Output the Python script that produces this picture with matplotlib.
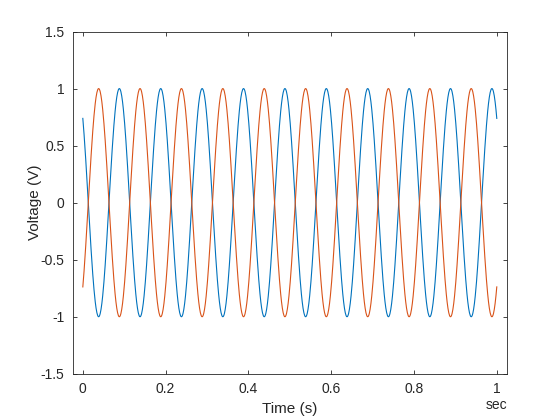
import numpy as np
import matplotlib
matplotlib.use("Agg")
import matplotlib.pyplot as plt

# values
time_start = 0.0          # s
time_end = 1.0            # s
time_step = 0.001         # s
freq_hz = 10              # 10 full cycles in one second
amplitude = 1.0           # V, peaks at +/-1
phase_rad = 0.74          # blue starts at ~0.74 V and falls
series_names = ["channel 1", "channel 2"]
series_sign = [1.0, -1.0]  # second trace is the mirror of the first
series_colors = ["#0072BD", "#D95319"]

x_ticks = [0, 0.2, 0.4, 0.6, 0.8, 1]
x_tick_labels = ["0", "0.2", "0.4", "0.6", "0.8", "1"]
y_ticks = [-1.5, -1, -0.5, 0, 0.5, 1, 1.5]
y_tick_labels = ["-1.5", "-1", "-0.5", "0", "0.5", "1", "1.5"]

t = np.arange(time_start, time_end + time_step / 2, time_step)

plt.rcParams["font.family"] = ["Liberation Sans", "DejaVu Sans"]
axis_color = "#262626"

fig = plt.figure(figsize=(5.6, 4.2), dpi=100)
ax = fig.add_axes([0.13, 0.11, 0.775, 0.815])

for name, sign, color in zip(series_names, series_sign, series_colors):
    v = sign * amplitude * np.cos(2 * np.pi * freq_hz * t + phase_rad)
    ax.plot(t, v, color=color, linewidth=0.8, label=name)

ax.set_xlim(-0.0242, 1.0242)
ax.set_ylim(-1.5, 1.5)
ax.set_xticks(x_ticks)
ax.set_xticklabels(x_tick_labels)
ax.set_yticks(y_ticks)
ax.set_yticklabels(y_tick_labels)

ax.tick_params(direction="in", length=3, width=0.6, colors=axis_color,
               labelsize=10, top=True, right=True, pad=6)
for s in ax.spines.values():
    s.set_color(axis_color)
    s.set_linewidth(0.6)

ax.set_xlabel("Time (s)", fontsize=11, color=axis_color, labelpad=4)
ax.set_ylabel("Voltage (V)", fontsize=11, color=axis_color, labelpad=-1)

# duration unit under the last tick label
ax.text(1.0, -0.09, "sec", transform=ax.get_xaxis_transform(),
        ha="center", va="center", fontsize=10, color=axis_color)

fig.savefig("out.png", dpi=100)
plt.close("all")
